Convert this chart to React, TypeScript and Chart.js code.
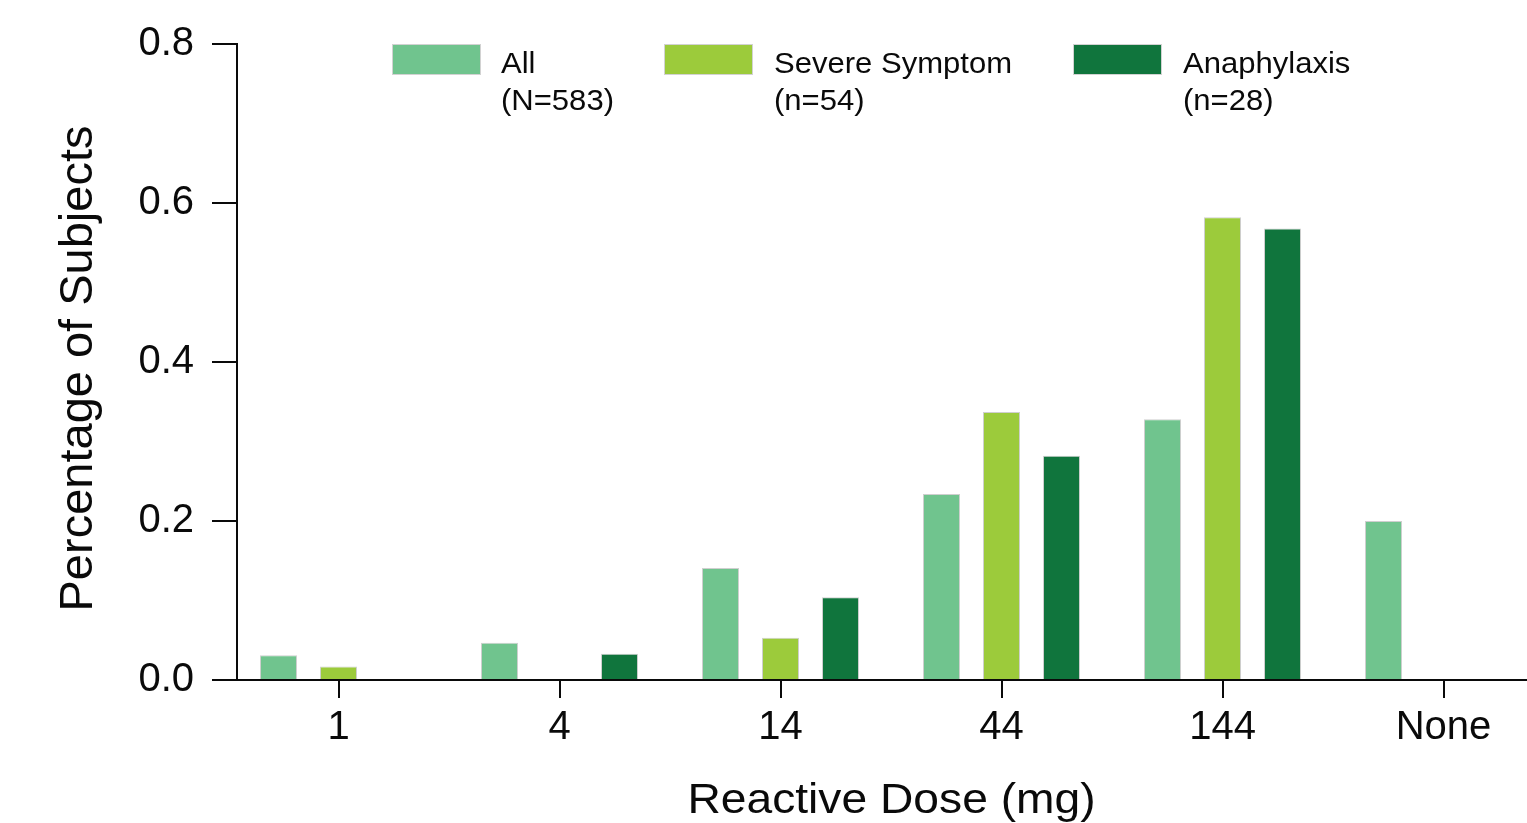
import { useEffect, useRef } from 'react';
import { Chart, registerables } from 'chart.js';

Chart.register(...registerables);

// ---- data ----
const CATEGORIES = ['1', '4', '14', '44', '144', 'None'];
const SERIES_LABELS = ['All', 'Severe Symptom', 'Anaphylaxis'];
const SERIES_SUBLABELS = ['(N=583)', '(n=54)', '(n=28)'];
const ALL = [0.031, 0.047, 0.141, 0.234, 0.328, 0.2];
const SEVERE: (number | null)[] = [0.017, null, 0.053, 0.337, 0.582, null];
const ANAPH: (number | null)[] = [null, 0.033, 0.104, 0.282, 0.568, null];
const Y_TICKS = [0, 0.2, 0.4, 0.6, 0.8];
const X_TITLE = 'Reactive Dose (mg)';
const Y_TITLE = 'Percentage of Subjects';

const COLORS = ['#70C48E', '#9CCB3B', '#10753D'];
const FONT = "'Liberation Sans', Arial, Helvetica, sans-serif";
const TEXT = '#0a0a0a';

const toPoints = (arr: (number | null)[]) =>
  arr
    .map((v, i) => (v == null ? null : { x: i, y: v }))
    .filter((p) => p !== null) as { x: number; y: number }[];

const overlayPlugin = {
  id: 'overlay',
  afterDraw(chart: any) {
    const ctx = chart.ctx as CanvasRenderingContext2D;
    // legend
    const boxX = [392, 664, 1073];
    const textX = [501, 774, 1183];
    SERIES_LABELS.forEach((label, i) => {
      ctx.save();
      ctx.fillStyle = COLORS[i];
      ctx.fillRect(boxX[i], 44, 89, 31);
      ctx.strokeStyle = '#d2d2d2';
      ctx.lineWidth = 1;
      ctx.strokeRect(boxX[i] + 0.5, 44.5, 88, 30);
      ctx.translate(textX[i], 73);
      ctx.scale(1.07, 1);
      ctx.font = `29px ${FONT}`;
      ctx.fillStyle = TEXT;
      ctx.textAlign = 'left';
      ctx.textBaseline = 'alphabetic';
      ctx.fillText(label, 0, 0);
      ctx.fillText(SERIES_SUBLABELS[i], 0, 37);
      ctx.restore();
    });
    // x title
    ctx.save();
    ctx.translate(891.5, 813);
    ctx.scale(1.1, 1);
    ctx.font = `42px ${FONT}`;
    ctx.fillStyle = TEXT;
    ctx.textAlign = 'center';
    ctx.textBaseline = 'alphabetic';
    ctx.fillText(X_TITLE, 0, 0);
    ctx.restore();
    // y title
    ctx.save();
    ctx.translate(91.7, 368.5);
    ctx.rotate(-Math.PI / 2);
    ctx.font = `47px ${FONT}`;
    ctx.fillStyle = TEXT;
    ctx.textAlign = 'center';
    ctx.textBaseline = 'alphabetic';
    ctx.fillText(Y_TITLE, 0, 0);
    ctx.restore();
  },
};

export default function App() {
  const ref = useRef<HTMLCanvasElement | null>(null);

  useEffect(() => {
    if (!ref.current) return;
    const seriesData = [ALL, SEVERE, ANAPH];
    const chart = new Chart(ref.current, {
      type: 'bar',
      data: {
        datasets: seriesData.map((arr, i) => ({
          label: SERIES_LABELS[i],
          data: toPoints(arr),
          backgroundColor: COLORS[i],
          borderColor: '#cfcfcf',
          borderWidth: 1,
          categoryPercentage: 0.8145,
          barPercentage: 0.617,
        })),
      },
      options: {
        responsive: false,
        animation: false,
        layout: { padding: { top: 44, left: 0, right: 0, bottom: 0 } },
        plugins: {
          legend: { display: false },
          tooltip: { enabled: false },
        },
        scales: {
          x: {
            type: 'linear',
            offset: false,
            min: -0.4593,
            max: 5.3778,
            afterBuildTicks: (scale: any) => {
              scale.ticks = CATEGORIES.map((_, i) => ({ value: i }));
            },
            afterFit: (scale: any) => {
              scale.height = 143;
            },
            ticks: {
              color: TEXT,
              font: { family: FONT, size: 40 },
              padding: 6,
              maxRotation: 0,
              autoSkip: false,
              callback: (v: any) => CATEGORIES[Math.round(Number(v))] ?? '',
            },
            grid: {
              display: true,
              offset: false,
              drawOnChartArea: false,
              drawTicks: true,
              tickLength: 18,
              color: TEXT,
              lineWidth: 2,
            },
            border: { display: true, color: TEXT, width: 2 },
          },
          y: {
            type: 'linear',
            min: 0,
            max: 0.8,
            afterBuildTicks: (scale: any) => {
              scale.ticks = Y_TICKS.map((v) => ({ value: v }));
            },
            afterFit: (scale: any) => {
              scale.width = 237;
            },
            ticks: {
              color: TEXT,
              font: { family: FONT, size: 40 },
              padding: 18,
              callback: (v: any) => Number(v).toFixed(1),
            },
            grid: {
              display: true,
              drawOnChartArea: false,
              drawTicks: true,
              tickLength: 25,
              color: TEXT,
              lineWidth: 2,
            },
            border: { display: true, color: TEXT, width: 2 },
          },
        },
      } as any,
      plugins: [overlayPlugin],
    });
    return () => chart.destroy();
  }, []);

  return (
    <div style={{ position: 'absolute', left: 0, top: 0, width: 1527, height: 823, background: '#fff' }}>
      <canvas ref={ref} width={1527} height={823} style={{ display: 'block', width: 1527, height: 823 }} />
    </div>
  );
}
